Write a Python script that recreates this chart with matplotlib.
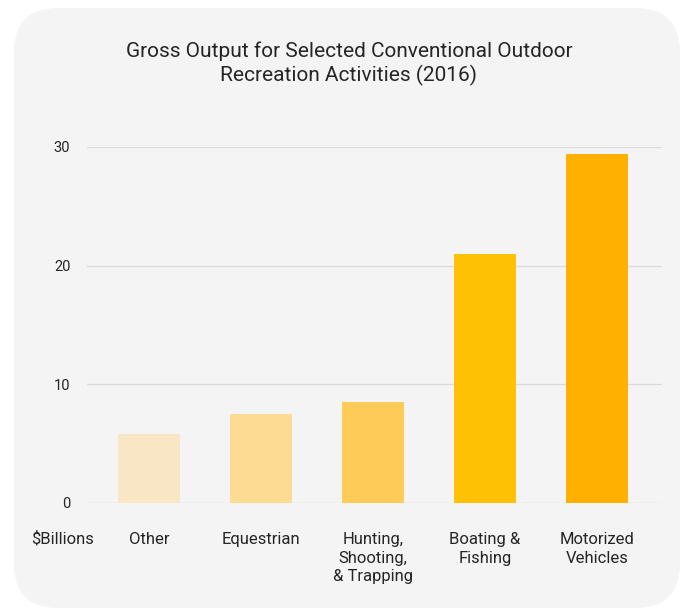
import matplotlib
matplotlib.use('Agg')
import matplotlib.pyplot as plt
from matplotlib.patches import FancyBboxPatch

# data
categories = ['Other', 'Equestrian', 'Hunting,\nShooting,\n& Trapping', 'Boating &\nFishing', 'Motorized\nVehicles']
values = [5.8, 7.5, 8.5, 21.0, 29.4]
bar_colors = ['#f9e6c4', '#fddb92', '#fecb58', '#ffc103', '#ffb000']
yticks = [0, 10, 20, 30]
title = 'Gross Output for Selected Conventional Outdoor\nRecreation Activities (2016)'
unit_label = '$Billions'

plt.rcParams['font.family'] = ['Roboto', 'DejaVu Sans']
text_color = '#252525'
panel_color = '#f4f4f4'

fig = plt.figure(figsize=(6.82, 6.10), dpi=100)
fig.patch.set_facecolor('white')

# rounded light grey panel behind everything
W, H = 682, 610
panel = FancyBboxPatch((14 / W, 2 / H), (680 - 14) / W, (602 - 2) / H,
                       boxstyle='round,pad=0,rounding_size=0.065',
                       transform=fig.transFigure, facecolor=panel_color,
                       edgecolor='none', zorder=-5, mutation_aspect=W / H)
fig.patches.append(panel)

ax = fig.add_axes([87 / W, 1 - 503 / H, (662 - 87) / W, (503 - 147) / H])
ax.set_zorder(2)
ax.set_facecolor('none')

x = range(len(categories))
ax.bar(x, values, width=0.56, color=bar_colors, zorder=2)

ax.set_ylim(0, 30)
ax.set_xlim(-0.554, 4.58)
ax.set_yticks(yticks)
ax.set_yticklabels([str(t) for t in yticks], fontsize=10.5, color=text_color)
ax.yaxis.grid(True, color='#dcdcdc', linewidth=1)
ax.set_axisbelow(True)
ax.tick_params(axis='y', length=0, pad=12)
ax.tick_params(axis='x', length=0, pad=21)
ax.set_xticks(list(x))
ax.set_xticklabels(categories, fontsize=12, color=text_color, linespacing=1.3, va='top')
for s in ax.spines.values():
    s.set_visible(False)

ax.text(-0.77, -2.4, unit_label, fontsize=12, color=text_color, ha='center', va='top',
        clip_on=False)

fig.text(349 / W, 1 - 64 / H, title, ha='center', va='center', fontsize=15,
         color=text_color, linespacing=1.25, zorder=3)

fig.savefig('out.png', dpi=100, facecolor=fig.get_facecolor())
